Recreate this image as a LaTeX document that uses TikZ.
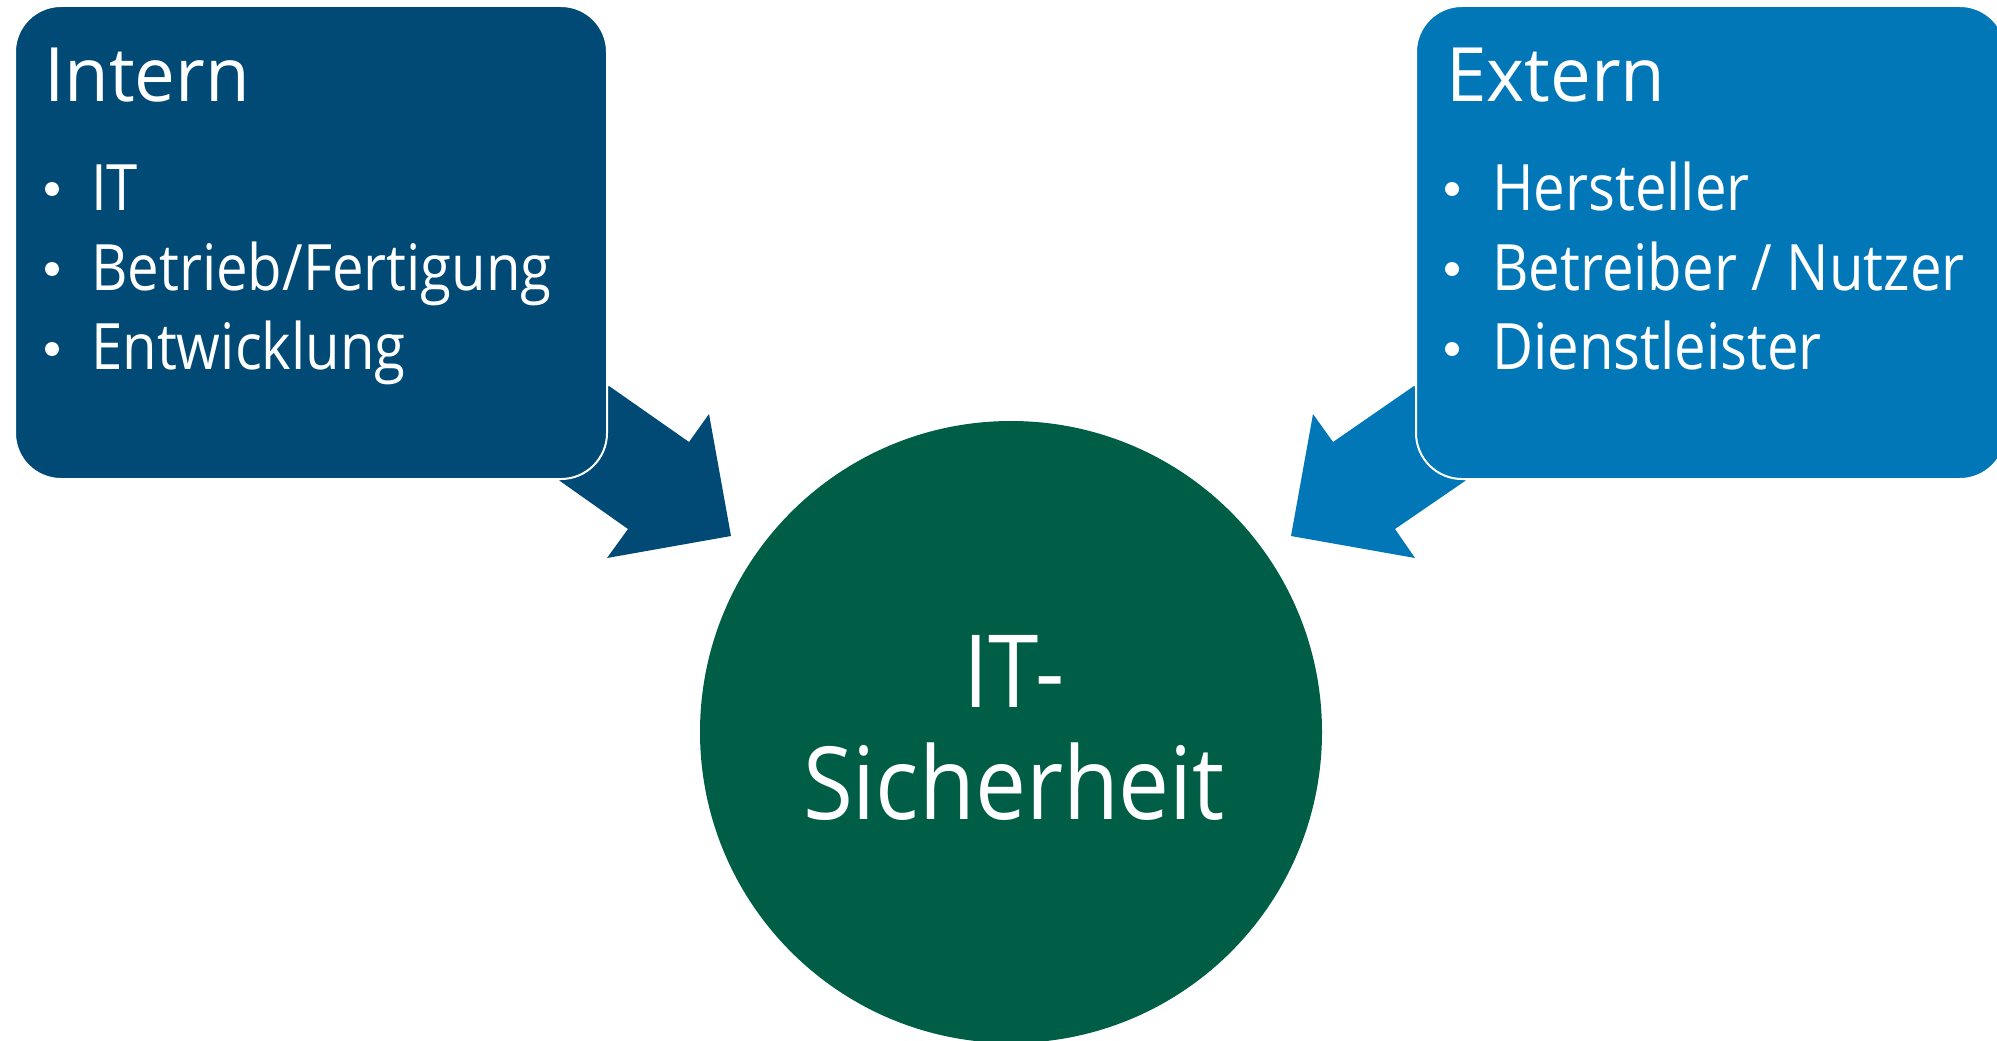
\documentclass[tikz,border=0pt]{standalone}
\usepackage{fontspec}
\setmainfont{Open Sans}[FakeStretch=0.88]
\newfontfamily\titlefont{Open Sans}[FakeStretch=0.97]
\newfontfamily\centerfont{Open Sans}[FakeStretch=0.9]
\definecolor{internblue}{RGB}{0,74,117}
\definecolor{externblue}{RGB}{2,119,183}
\definecolor{secgreen}{RGB}{0,94,70}
\tikzset{
  boxshape/.style={rectangle, rounded corners=46pt, draw=white, line width=2pt, inner sep=0pt},
  title/.style={anchor=base west, text=white, inner sep=0pt, font=\titlefont\fontsize{75}{90}\selectfont},
  item/.style={anchor=base west, text=white, inner sep=0pt, font=\fontsize{64}{77}\selectfont},
  dot/.style={circle, fill=white, inner sep=0pt, minimum size=14pt},
  centertext/.style={anchor=base, text=white, inner sep=0pt, font=\centerfont\fontsize{101}{112}\selectfont},
}
\begin{document}
\begin{tikzpicture}[x=1pt,y=-1pt]
\useasboundingbox (0,0) rectangle (1997,1041);
% arrows
\fill[internblue] (609,386) -- (689,442) -- (709,414) -- (731,536) -- (607,558) -- (628,529) -- (560,481) -- (520,440) -- cycle;
\fill[externblue] (1414,386) -- (1333,442) -- (1313,414) -- (1291,536) -- (1415,558) -- (1395,529) -- (1465,481) -- (1500,440) -- cycle;
% boxes
\node[boxshape, fill=internblue, minimum width=592pt, minimum height=473pt] (intern) at (311,242.5) {};
\node[boxshape, fill=externblue, minimum width=590pt, minimum height=473pt] (extern) at (1711,242.5) {};
% circle
\node[circle, fill=secgreen, minimum size=622pt, inner sep=0pt] (sec) at (1011,732) {};
% texts
\node[title] (intern-t) at (44,101) {Intern};
\node[dot] (d1) at (52,189) {};
\node[dot] (d2) at (52,269) {};
\node[dot] (d3) at (52,349) {};
\node[item] (i1) at (91,210) {IT};
\node[item] (i2) at (91,290) {Betrieb/Fertigung};
\node[item] (i3) at (91,369) {Entwicklung};
\node[title] (extern-t) at (1446,101) {Extern};
\node[dot] (e1) at (1452,189) {};
\node[dot] (e2) at (1452,269) {};
\node[dot] (e3) at (1452,349) {};
\node[item] (x1) at (1492,210) {Hersteller};
\node[item] (x2) at (1492,290) {Betreiber / Nutzer};
\node[item] (x3) at (1492,369) {Dienstleister};
\node[centertext] (s1) at (1014,707) {IT-};
\node[centertext] (s2) at (1014,819) {Sicherheit};
\end{tikzpicture}
\end{document}
